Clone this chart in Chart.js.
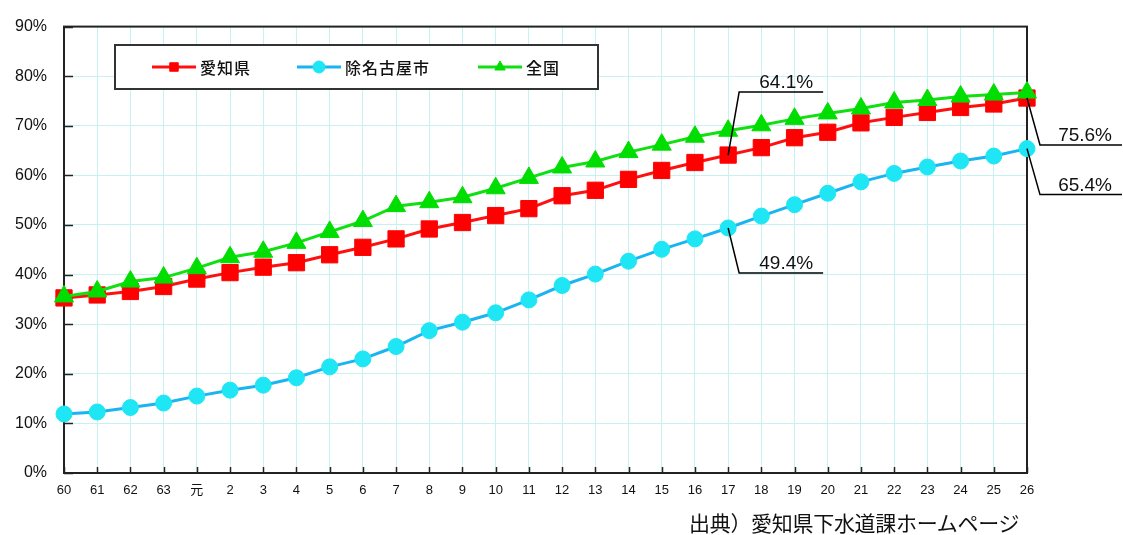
<!DOCTYPE html>
<html lang="ja">
<head>
  <meta charset="UTF-8" />
  <title>下水道普及率の推移</title>
  <script src="https://cdn.jsdelivr.net/npm/chart.js"></script>
  <style>
    * { margin: 0; padding: 0; }
    body { background: #fff; width: 1123px; height: 535px; overflow: hidden; }
    .wrap { position: relative; width: 1123px; height: 535px; }
    .source {
      position: absolute;
      left: 689px;
      top: 507px;
      font-family: "Noto Sans CJK JP", sans-serif;
      font-size: 21px;
      letter-spacing: -0.3px;
      color: #111;
      white-space: nowrap;
    }
  </style>
</head>
<body>
  <div class="wrap">
    <canvas id="rate-chart" width="1123" height="535"></canvas>
    <div class="source">出典）愛知県下水道課ホームページ</div>
  </div>

  <script>
    // 年度 (昭和60〜平成26)
    const years = ['60', '61', '62', '63', '元', '2', '3', '4', '5', '6', '7', '8', '9', '10',
      '11', '12', '13', '14', '15', '16', '17', '18', '19', '20', '21', '22', '23', '24', '25', '26'];

    // 下水道普及率 (%)
    const aichi = [35.3, 35.9, 36.6, 37.6, 39.1, 40.4, 41.5, 42.4, 44.0, 45.5, 47.2, 49.2, 50.5, 51.9,
      53.3, 55.9, 57.0, 59.2, 61.0, 62.6, 64.1, 65.6, 67.6, 68.7, 70.6, 71.7, 72.7, 73.7, 74.4, 75.6];
    const exclNagoya = [11.9, 12.3, 13.2, 14.1, 15.5, 16.7, 17.7, 19.2, 21.4, 23.0, 25.5, 28.7, 30.4, 32.3,
      34.9, 37.8, 40.1, 42.7, 45.1, 47.2, 49.4, 51.8, 54.1, 56.4, 58.7, 60.4, 61.7, 62.9, 63.9, 65.4];
    const national = [35.6, 36.6, 38.6, 39.4, 41.3, 43.5, 44.6, 46.4, 48.6, 50.8, 53.8, 54.6, 55.6, 57.4,
      59.5, 61.6, 62.8, 64.7, 66.2, 67.8, 69.0, 70.1, 71.4, 72.5, 73.5, 74.7, 75.2, 75.9, 76.3, 76.7];

    const yTicks = [0, 10, 20, 30, 40, 50, 60, 70, 80, 90];

    // 吹き出しラベル: dataset index, point index, elbow offset, line length
    const callouts = [
      { ds: 0, i: 20, text: '64.1%', dx: 11, dy: -63, len: 84 },
      { ds: 1, i: 20, text: '49.4%', dx: 11, dy: 45, len: 84 },
      { ds: 0, i: 29, text: '75.6%', dx: 13, dy: 47, len: 82 },
      { ds: 1, i: 29, text: '65.4%', dx: 13, dy: 46, len: 82 }
    ];

    const GRID = '#c6f2f2';

    // 枠線と内向きの目盛り
    const framePlugin = {
      id: 'frame',
      beforeDatasetsDraw(chart) {
        const { ctx, chartArea: a, scales } = chart;
        ctx.save();
        ctx.strokeStyle = '#222';
        ctx.lineWidth = 2;
        ctx.strokeRect(a.left, a.top, a.right - a.left, a.bottom - a.top);
        ctx.lineWidth = 1.5;
        ctx.beginPath();
        scales.y.ticks.forEach((t, k) => {
          const y = Math.round(scales.y.getPixelForTick(k)) + 0.5;
          ctx.moveTo(a.left, y);
          ctx.lineTo(a.left + 9, y);
        });
        scales.x.ticks.forEach((t, k) => {
          const x = Math.round(scales.x.getPixelForTick(k)) + 0.5;
          ctx.moveTo(x, a.bottom);
          ctx.lineTo(x, a.bottom - 6);
        });
        ctx.stroke();
        ctx.restore();
      }
    };

    // 凡例 (グラフ内の枠)
    const legendPlugin = {
      id: 'boxLegend',
      afterDraw(chart) {
        const { ctx } = chart;
        const items = [
          { ds: 0, x: 152 },
          { ds: 1, x: 297 },
          { ds: 2, x: 478 }
        ];
        ctx.save();
        ctx.fillStyle = '#fff';
        ctx.fillRect(115, 45, 483, 44);
        ctx.strokeStyle = '#333';
        ctx.lineWidth = 2;
        ctx.strokeRect(115, 45, 483, 44);
        const y = 67;
        items.forEach(it => {
          const d = chart.data.datasets[it.ds];
          ctx.strokeStyle = d.borderColor;
          ctx.lineWidth = 3;
          ctx.beginPath();
          ctx.moveTo(it.x, y);
          ctx.lineTo(it.x + 44, y);
          ctx.stroke();
          ctx.fillStyle = d.pointBackgroundColor;
          ctx.strokeStyle = d.pointBackgroundColor;
          ctx.lineWidth = 1;
          Chart.helpers.drawPoint(ctx, { pointStyle: d.pointStyle, radius: 6, borderWidth: 1 }, it.x + 22, y);
          ctx.fillStyle = '#111';
          ctx.font = '500 16px "Noto Sans CJK JP", sans-serif';
          ctx.letterSpacing = '1px';
          ctx.textBaseline = 'middle';
          ctx.fillText(d.label, it.x + 48, y + 1);
          ctx.letterSpacing = '0px';
        });
        ctx.restore();
      }
    };

    // 数値の吹き出し
    const calloutPlugin = {
      id: 'callouts',
      afterDraw(chart) {
        const { ctx } = chart;
        ctx.save();
        ctx.strokeStyle = '#000';
        ctx.lineWidth = 1.5;
        ctx.fillStyle = '#111';
        ctx.font = '19px "Liberation Sans Narrow", "Liberation Sans", sans-serif';
        ctx.textAlign = 'right';
        ctx.textBaseline = 'alphabetic';
        callouts.forEach(c => {
          const p = chart.getDatasetMeta(c.ds).data[c.i];
          const ex = p.x + c.dx;
          const ey = p.y + c.dy;
          ctx.beginPath();
          ctx.moveTo(p.x, p.y);
          ctx.lineTo(ex, ey);
          ctx.lineTo(ex + c.len, ey);
          ctx.stroke();
          ctx.fillText(c.text, ex + c.len - 10, ey - 4);
        });
        ctx.restore();
      }
    };

    new Chart(document.getElementById('rate-chart'), {
      type: 'line',
      data: {
        labels: years,
        datasets: [
          {
            label: '愛知県',
            data: aichi,
            borderColor: '#ff1010',
            pointBackgroundColor: '#ff0000',
            pointBorderColor: '#ff0000',
            pointStyle: 'rect',
            pointRadius: 11.5,
            order: 1
          },
          {
            label: '除名古屋市',
            data: exclNagoya,
            borderColor: '#1ab4f0',
            pointBackgroundColor: '#1ee6f4',
            pointBorderColor: '#1ee6f4',
            pointStyle: 'circle',
            pointRadius: 8,
            order: 2
          },
          {
            label: '全国',
            data: national,
            borderColor: '#10e010',
            pointBackgroundColor: '#00dd00',
            pointBorderColor: '#00dd00',
            pointStyle: 'triangle',
            pointRadius: 11,
            order: 0
          }
        ]
      },
      options: {
        responsive: false,
        animation: false,
        layout: { padding: { top: 19, right: 96, left: 0, bottom: 0 } },
        datasets: {
          line: { borderWidth: 3, tension: 0, clip: false, pointBorderWidth: 1 }
        },
        plugins: {
          legend: { display: false },
          tooltip: { enabled: false }
        },
        scales: {
          x: {
            offset: false,
            grid: { color: GRID, lineWidth: 1, drawTicks: false },
            border: { display: false },
            ticks: {
              color: '#111',
              padding: 10,
              maxRotation: 0,
              autoSkip: false,
              font: { family: '"Liberation Sans", "Noto Sans CJK JP", sans-serif', size: 13 }
            },
            afterFit(scale) { scale.height = 62; }
          },
          y: {
            min: 0,
            max: 90,
            afterBuildTicks(scale) { scale.ticks = yTicks.map(v => ({ value: v })); },
            grid: { color: GRID, lineWidth: 1, drawTicks: false },
            border: { display: false },
            ticks: {
              color: '#111',
              padding: 17,
              callback: v => v + '%',
              font: { family: '"Liberation Sans", sans-serif', size: 16 }
            },
            afterFit(scale) { scale.width = 64; }
          }
        }
      },
      plugins: [framePlugin, legendPlugin, calloutPlugin]
    });
  </script>
</body>
</html>
